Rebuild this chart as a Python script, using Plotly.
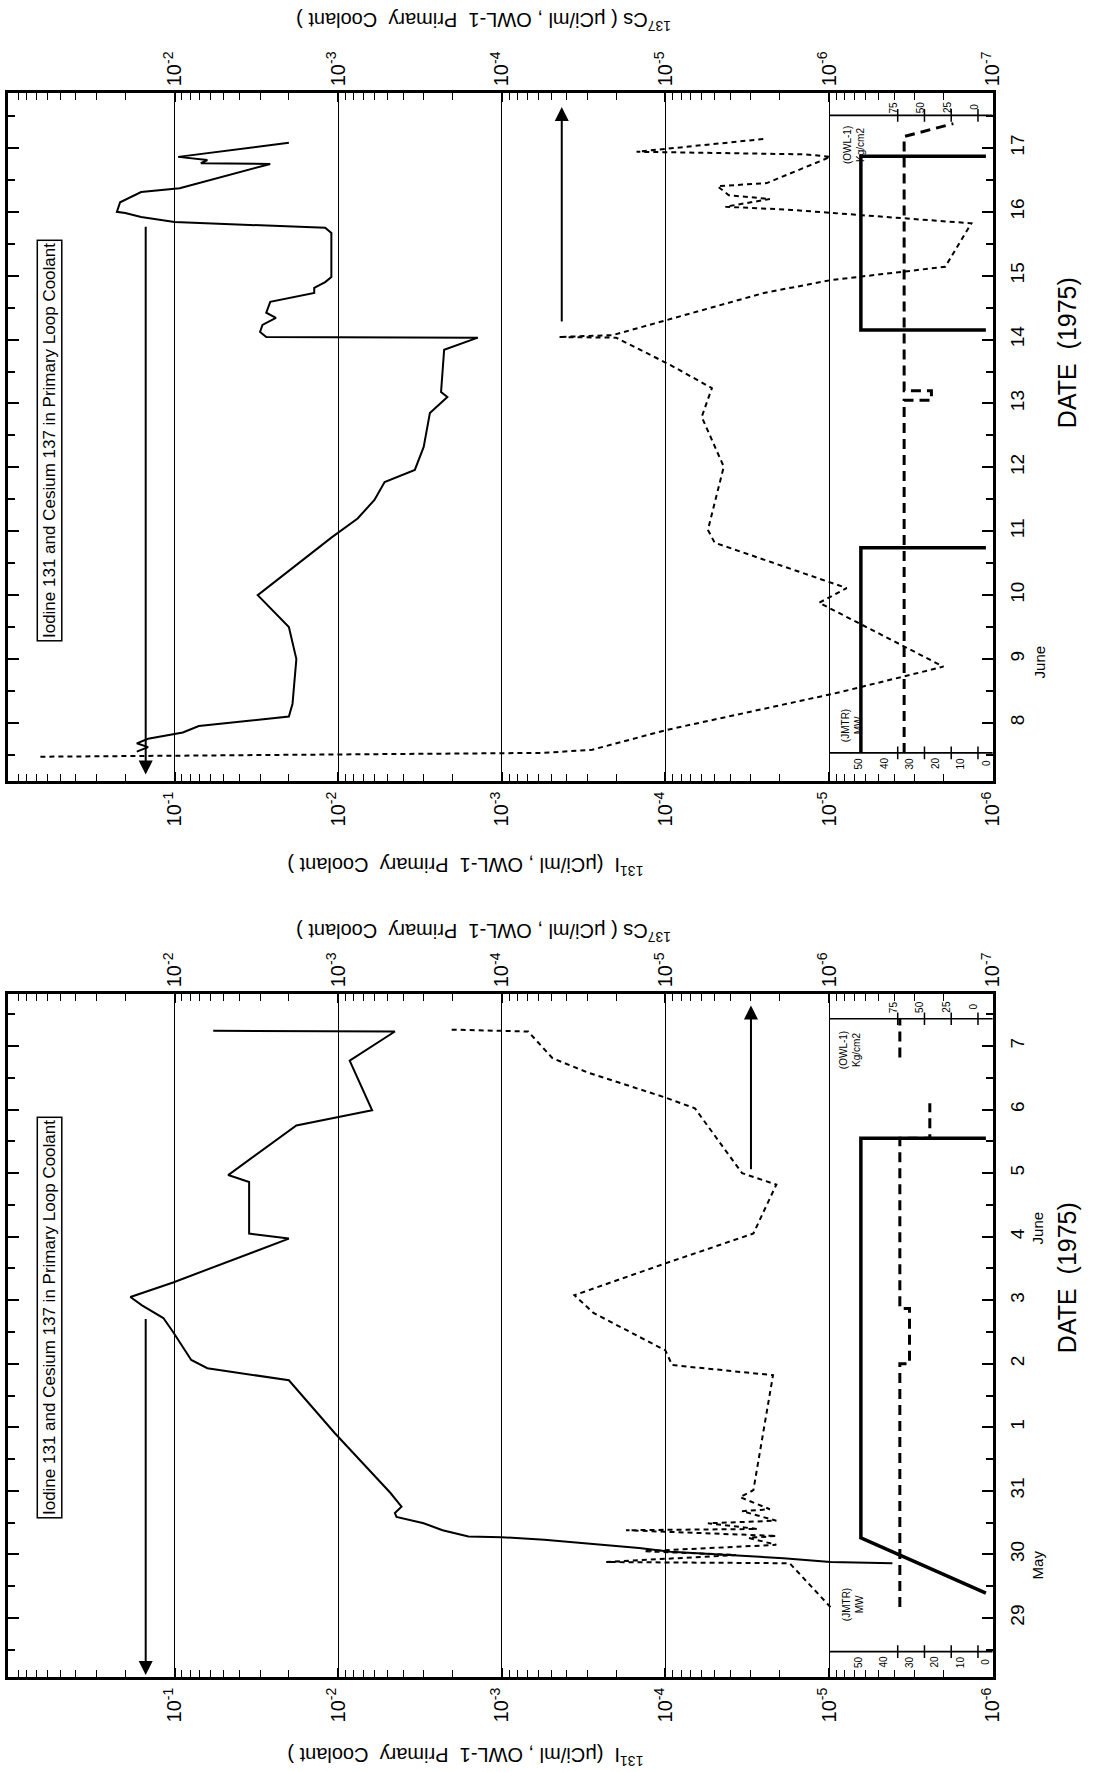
import math
import plotly.graph_objects as go

W, H = 1094, 1772

# ---------------- DATA ----------------
# Upper panel: June 8-17 (day of June)
jun_i_day = [7.55, 7.62, 7.68, 7.75, 7.85, 7.95, 8.10, 8.30, 9.00, 9.50, 10.00,
             10.90, 11.20, 11.49, 11.77, 11.96, 12.32, 12.85, 13.10, 13.18, 13.84,
             14.03, 14.04, 14.12, 14.23, 14.34, 14.42, 14.59, 14.73, 14.81, 14.90,
             14.98, 15.67, 15.75, 15.84, 15.92, 15.98, 16.00, 16.15, 16.31, 16.37,
             16.75, 16.76, 16.81, 16.86, 17.08]
jun_i_val = [1.7e-1, 1.45e-1, 1.7e-1, 1.45e-1, 8.9e-2, 7.1e-2, 2.0e-2, 1.9e-2, 1.8e-2, 2.0e-2, 3.1e-2,
             1.1e-2, 7.6e-3, 6.0e-3, 5.2e-3, 3.4e-3, 3.0e-3, 2.75e-3, 2.15e-3, 2.35e-3, 2.25e-3,
             1.4e-3, 2.75e-2, 3.0e-2, 2.9e-2, 2.4e-2, 2.75e-2, 2.6e-2, 1.4e-2, 1.4e-2, 1.2e-2,
             1.1e-2, 1.1e-2, 1.2e-2, 1.0e-1, 1.6e-1, 2.0e-1, 2.25e-1, 2.15e-1, 1.6e-1, 9.3e-2,
             2.6e-2, 6.9e-2, 6.3e-2, 9.5e-2, 2.0e-2]
jun_cs_day = [7.47, 7.53, 7.58, 7.89, 8.47, 8.88, 9.88, 10.11, 10.82, 11.02, 12.01,
              12.79, 13.24, 13.60, 14.03, 14.04, 14.07, 14.73, 14.93, 15.14, 15.82,
              15.98, 16.03, 16.08, 16.20, 16.26, 16.40, 16.45, 16.86, 16.90, 16.94, 17.14]
jun_cs_val = [6.6e-2, 5.6e-5, 2.8e-5, 9.8e-6, 8.9e-7, 2.0e-7, 1.15e-6, 7.8e-7, 5.0e-6, 5.5e-6, 4.4e-6,
              6.0e-6, 5.2e-6, 9.3e-6, 2.0e-5, 4.5e-5, 2.1e-5, 2.5e-6, 9.8e-7, 1.95e-7, 1.35e-7,
              8.5e-7, 1.7e-6, 4.3e-6, 2.3e-6, 4.1e-6, 4.8e-6, 2.4e-6, 9.8e-7, 1.4e-6, 1.5e-5, 2.5e-6]
jun_mw_day = [7.53, 10.74, 10.74, None, 14.15, 14.15, 16.87, 16.87]
jun_mw_val = [49, 49, 0, None, 0, 49, 49, 0]
jun_p_day = [7.53, 13.05, 13.05, 13.20, 13.20, 17.18, 17.38]
jun_p_val = [69, 69, 43.5, 43.5, 69, 69, 23]
jun_tick_days = [8, 9, 10, 11, 12, 13, 14, 15, 16, 17]
jun_tick_text = ["8", "9", "10", "11", "12", "13", "14", "15", "16", "17"]

# Lower panel: May 29 - June 7 (day index: May 29 = 29 ... June 1 = 32 ... June 7 = 38)
may_i_day = [29.86, 29.88, 29.94, 30.04, 30.10, 30.23, 30.27, 30.28, 30.38, 30.49,
             30.59, 30.65, 30.75, 30.97, 31.91, 32.74, 32.93, 33.06, 33.50, 33.72,
             33.92, 34.05, 34.28, 34.97, 35.05, 35.86, 35.97, 36.75, 36.99, 37.77,
             38.23, 38.24]
may_i_val = [4.1e-6, 9.8e-6, 1.9e-5, 9.3e-5, 1.45e-4, 5.5e-4, 1.0e-3, 1.6e-3, 2.3e-3, 3.0e-3,
             4.4e-3, 4.5e-3, 4.1e-3, 4.8e-3, 1.05e-2, 2.0e-2, 6.3e-2, 7.9e-2, 1.02e-1, 1.17e-1,
             1.58e-1, 1.86e-1, 1.02e-1, 2.0e-2, 3.5e-2, 3.5e-2, 4.7e-2, 1.8e-2, 6.2e-3, 8.5e-3,
             4.5e-3, 5.8e-2]
may_cs_day = [29.17, 29.86, 29.88, 29.99, 30.05, 30.15, 30.26, 30.29, 30.38, 30.40,
              30.49, 30.53, 30.68, 30.71, 30.90, 31.01, 32.82, 32.98, 33.21, 33.80,
              34.08, 34.58, 35.05, 35.82, 36.00, 37.02, 37.19, 37.58, 37.81, 38.23, 38.26]
may_cs_val = [9.8e-7, 1.74e-6, 2.3e-5, 3.7e-6, 1.35e-5, 2.1e-6, 3.1e-6, 2.1e-6, 1.74e-5, 2.75e-6,
              5.5e-6, 2.1e-6, 3.4e-6, 2.3e-6, 3.5e-6, 2.9e-6, 2.2e-6, 9.1e-6, 1.0e-5, 2.75e-5,
              3.6e-5, 1.0e-5, 2.9e-6, 2.1e-6, 3.4e-6, 6.6e-6, 1.0e-5, 2.95e-5, 4.9e-5, 6.9e-5, 2.1e-4]
may_mw_day = [29.39, 30.26, 36.55, 36.55]
may_mw_val = [0, 49, 49, 0]
may_p_day = [29.17, 33.00, 33.00, 33.87, 33.87, 36.55, 36.55, 37.10, None, 37.82, 38.43]
may_p_val = [73, 73, 64, 64, 73, 73, 45, 45, None, 73, 73]
may_tick_days = [29, 30, 31, 32, 33, 34, 35, 36, 37, 38]
may_tick_text = ["29", "30", "31", "1", "2", "3", "4", "5", "6", "7"]

i_tick_vals = [1e-1, 1e-2, 1e-3, 1e-4, 1e-5, 1e-6]
i_tick_text = ["10<sup>-1</sup>", "10<sup>-2</sup>", "10<sup>-3</sup>",
               "10<sup>-4</sup>", "10<sup>-5</sup>", "10<sup>-6</sup>"]
cs_tick_vals = [1e-2, 1e-3, 1e-4, 1e-5, 1e-6, 1e-7]
cs_tick_text = ["10<sup>-2</sup>", "10<sup>-3</sup>", "10<sup>-4</sup>",
                "10<sup>-5</sup>", "10<sup>-6</sup>", "10<sup>-7</sup>"]
mw_labels = [50, 40, 30, 20, 10, 0]
p_labels = [75, 50, 25, 0]

# ---------------- LAYOUT HELPERS ----------------
FONT = "Liberation Sans"
XDOM = [8 / W, 1002 / W]
TOP_DOM = [1 - 781 / H, 1 - 93 / H]
LOW_DOM = [1 - 1677 / H, 1 - 994 / H]
I_RANGE = [0.018, -6.001]
CS_RANGE = [-0.982, -7.001]
MW_RANGE = [383.3, -2.72]
P_RANGE = [906.5, -13.9]


def minor_vals(k_hi, k_lo):
    out = []
    for k in range(k_hi, k_lo - 1, -1):
        for m in range(2, 10):
            out.append(m * 10.0 ** k)
    return out


def log_axis(rng, tv, tt, minor, side, anchor, overlay=None, grid=False):
    d = dict(type="log", range=rng, domain=XDOM, anchor=anchor, side=side,
             tickmode="array", tickvals=tv, ticktext=tt, tickangle=-90,
             ticks="inside", ticklen=9, tickwidth=1.5, tickcolor="black",
             tickfont=dict(family=FONT, size=20, color="black"),
             showline=True, linecolor="black", linewidth=2.5, mirror=True,
             showgrid=grid, gridcolor="black", gridwidth=1, zeroline=False,
             minor=dict(tickmode="array", tickvals=minor, ticks="inside", ticklen=7,
                        tickwidth=1.3, tickcolor="black", showgrid=False))
    if overlay:
        d["overlaying"] = overlay
    return d


def date_axis(rng, dom, tv, tt, anchor):
    return dict(range=rng, domain=dom, anchor=anchor, side="right",
                tickmode="array", tickvals=tv, ticktext=tt, tickangle=-90,
                ticks="inside", ticklen=11, tickwidth=2, tickcolor="black",
                tickfont=dict(family=FONT, size=19, color="black"),
                ticklabelstandoff=6,
                showline=True, linecolor="black", linewidth=2.5, mirror="ticks",
                showgrid=False, zeroline=False,
                minor=dict(dtick=0.5, tick0=0, ticks="inside", ticklen=7,
                           tickwidth=1.5, tickcolor="black"))


def hidden_lin(rng, overlay, anchor):
    return dict(range=rng, domain=XDOM, overlaying=overlay, anchor=anchor,
                visible=False, showgrid=False, zeroline=False)


fig = go.Figure()

SOLID = dict(color="black", width=2)
DASH = dict(color="black", width=2, dash="5px,4px")
THICK = dict(color="black", width=3.5)
THICKDASH = dict(color="black", width=3, dash="10px,6px")

panels = [
    ("x", "x2", "x5", "x6", "y", jun_i_day, jun_i_val, jun_cs_day, jun_cs_val,
     jun_mw_day, jun_mw_val, jun_p_day, jun_p_val, 7.53, 17.51),
    ("x3", "x4", "x7", "x8", "y2", may_i_day, may_i_val, may_cs_day, may_cs_val,
     may_mw_day, may_mw_val, may_p_day, may_p_val, 28.47, 38.43),
]

for (xi, xc, xm, xp, yy, idays, ivals, cdays, cvals, mdays, mvals, pdays, pvals,
     inset_lo, inset_hi) in panels:
    fig.add_trace(go.Scatter(x=ivals, y=idays, mode="lines", line=SOLID,
                             xaxis=xi, yaxis=yy, hoverinfo="skip"))
    fig.add_trace(go.Scatter(x=cvals, y=cdays, mode="lines", line=DASH,
                             xaxis=xc, yaxis=yy, hoverinfo="skip"))
    fig.add_trace(go.Scatter(x=mvals, y=mdays, mode="lines", line=THICK,
                             xaxis=xm, yaxis=yy, hoverinfo="skip", connectgaps=False))
    fig.add_trace(go.Scatter(x=pvals, y=pdays, mode="lines", line=THICKDASH,
                             xaxis=xp, yaxis=yy, hoverinfo="skip", connectgaps=False))
    for dline in (inset_lo, inset_hi):
        fig.add_trace(go.Scatter(x=[1e-5, 1e-6], y=[dline, dline], mode="lines",
                                 line=dict(color="black", width=1.6),
                                 xaxis=xi, yaxis=yy, hoverinfo="skip"))
        fig.add_trace(go.Scatter(x=p_labels, y=[dline] * len(p_labels), mode="markers",
                                 marker=dict(symbol="line-ns", size=9,
                                             line=dict(color="black", width=1.5)),
                                 xaxis=xp, yaxis=yy, hoverinfo="skip"))

fig.update_layout(
    width=W, height=H, margin=dict(l=0, r=0, t=0, b=0),
    paper_bgcolor="white", plot_bgcolor="white", showlegend=False,
    font=dict(family=FONT, color="black"),
    xaxis=log_axis(I_RANGE, i_tick_vals, i_tick_text, minor_vals(-1, -6), "bottom", "y", grid=True),
    xaxis2=log_axis(CS_RANGE, cs_tick_vals, cs_tick_text, minor_vals(-1, -7), "top", "y", overlay="x"),
    xaxis3=log_axis(I_RANGE, i_tick_vals, i_tick_text, minor_vals(-1, -6), "bottom", "y2", grid=True),
    xaxis4=log_axis(CS_RANGE, cs_tick_vals, cs_tick_text, minor_vals(-1, -7), "top", "y2", overlay="x3"),
    xaxis5=hidden_lin(MW_RANGE, "x", "y"),
    xaxis6=hidden_lin(P_RANGE, "x", "y"),
    xaxis7=hidden_lin(MW_RANGE, "x3", "y2"),
    xaxis8=hidden_lin(P_RANGE, "x3", "y2"),
    yaxis=date_axis([7.09, 17.86], TOP_DOM, jun_tick_days, jun_tick_text, "x"),
    yaxis2=date_axis([28.07, 38.82], LOW_DOM, may_tick_days, may_tick_text, "x3"),
)

ann = []


def ptext(text, px, py, angle=0, size=17, **kw):
    d = dict(text=text, x=px / W, y=1 - py / H, xref="paper", yref="paper",
             showarrow=False, textangle=angle, xanchor="center", yanchor="middle",
             font=dict(family=FONT, size=size, color="black"))
    d.update(kw)
    ann.append(d)


I_TITLE = "<sup>131</sup>I  (μCi/ml , OWL-1  Primary  Coolant )"
CS_TITLE = "<sup>137</sup>Cs ( μCi/ml , OWL-1  Primary  Coolant )"
BOX = "Iodine 131 and Cesium 137 in Primary Loop Coolant"

for cs_y, i_y, date_y, box_y in ((22, 866, 353, 441), (933, 1757, 1278, 1318)):
    ptext(CS_TITLE, 488, cs_y, angle=180, size=20)
    ptext(I_TITLE, 470, i_y, angle=180, size=20)
    ptext("DATE  (1975)", 1077, date_y, angle=-90, size=25)
    ptext(BOX, 50, box_y, angle=-90, size=17, bordercolor="black", borderwidth=1.5,
          borderpad=2)

ptext("June", 1049, 662, angle=-90, size=15)
ptext("June", 1047, 1228, angle=-90, size=15)
ptext("May", 1047, 1565, angle=-90, size=15)

ptext("(JMTR)<br>MW", 860, 726, angle=-90, size=10)
ptext("(OWL-1)<br>Kg/cm2", 862, 145, angle=-90, size=10)
ptext("(JMTR)<br>MW", 861, 1605, angle=-90, size=10)
ptext("(OWL-1)<br>Kg/cm2", 858, 1050, angle=-90, size=10)

for xm, xp, yy, mw_row, p_row in (("x5", "x6", "y", 7.37, 17.64), ("x7", "x8", "y2", 28.31, 38.62)):
    for v in mw_labels:
        ann.append(dict(text=str(v), x=v, y=mw_row, xref=xm, yref=yy, showarrow=False,
                        textangle=-90, font=dict(family=FONT, size=10, color="black")))
    for v in p_labels:
        ann.append(dict(text=str(v), x=v + 4, y=p_row, xref=xp, yref=yy, showarrow=False,
                        textangle=-90, font=dict(family=FONT, size=10, color="black")))

arrows = [("x", "y", 0.15, 15.79, 7.19), ("x", "y", 4.3e-4, 14.26, 17.64),
          ("x3", "y2", 0.15, 33.73, 28.10), ("x3", "y2", 3.0e-5, 36.04, 38.64)]
for xr, yr, xv, d_from, d_to in arrows:
    lx = math.log10(xv)
    ann.append(dict(text="", x=lx, y=d_to, ax=lx, ay=d_from, xref=xr, yref=yr,
                    axref=xr, ayref=yr, showarrow=True, arrowhead=2, arrowsize=1.4,
                    arrowwidth=2, arrowcolor="black"))

fig.update_layout(annotations=ann)

fig.write_html("out.html", config={"displayModeBar": False},
               post_script="document.body.style.margin='0';document.body.style.overflow='hidden';")
